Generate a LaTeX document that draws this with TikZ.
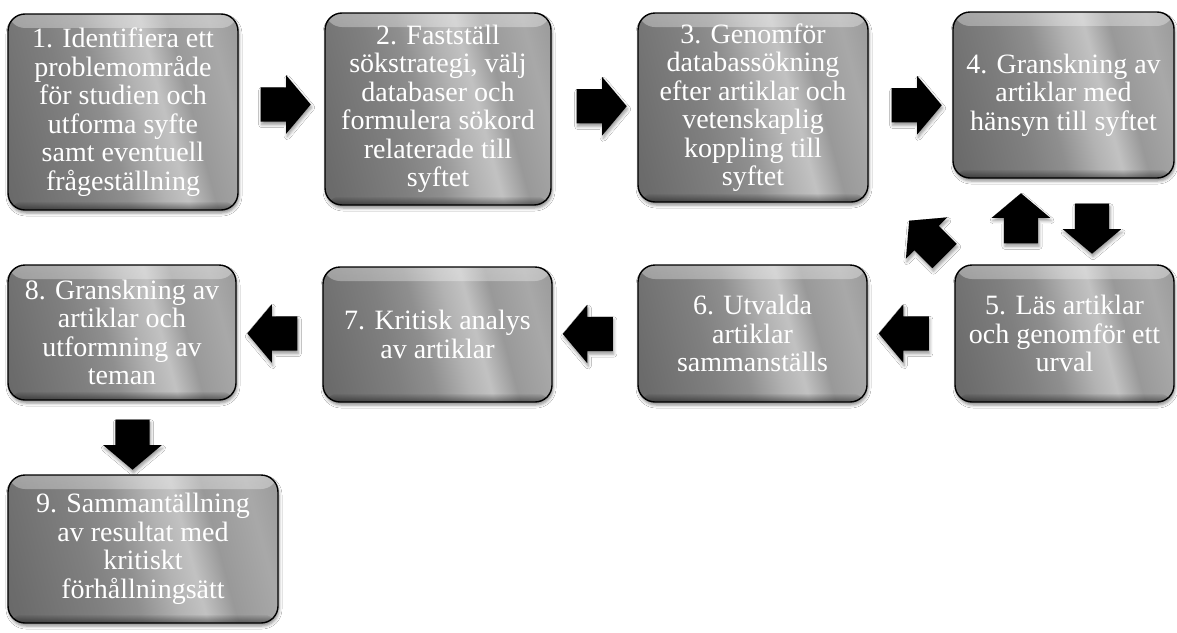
\documentclass[tikz,border=0pt]{standalone}
\usepackage{fontspec}
\setmainfont{Liberation Serif}
\usetikzlibrary{shapes.arrows,shadows.blur,calc,fadings}
\pgfdeclarehorizontalshading{metal}{100bp}{color(0bp)=(black!64); color(22bp)=(black!58); color(38bp)=(black!50); color(46bp)=(black!44); color(54bp)=(black!30); color(59bp)=(black!24); color(65bp)=(black!40); color(74bp)=(black!34); color(88bp)=(black!46); color(100bp)=(black!56)}
\tikzset{
  box/.style={draw=black, line width=1.4pt, rounded corners=17pt, shading=metal, shading angle=15,
    text=white, align=center, font=\fontsize{28}{28.5}\selectfont, inner sep=0pt,
    blur shadow={shadow xshift=1pt, shadow yshift=-3pt, shadow blur radius=3pt, shadow opacity=45},
    path picture={
      \fill[white,opacity=0.35,path fading=south] (path picture bounding box.north west) rectangle ([yshift=-14pt]path picture bounding box.north east);
      \fill[black,opacity=0.45,path fading=north] (path picture bounding box.south west) rectangle ([yshift=9pt]path picture bounding box.south east);}},
  blockarrow/.style={single arrow, fill=black, draw=none, minimum height=50pt,
    single arrow head extend=12pt, single arrow tip angle=100, inner xsep=0pt, inner ysep=17pt, anchor=center,
    blur shadow={shadow xshift=1pt, shadow yshift=-3pt, shadow blur radius=3pt, shadow opacity=40}}
}
\begin{document}
\begin{tikzpicture}[x=1pt,y=-1pt]
\useasboundingbox[fill=white] (0,0) rectangle (1177,632);
% boxes
\node[box, minimum width=230pt, minimum height=196pt] (b1) at (123,112)
  {1. Identifiera ett\\problemområde\\för studien och\\utforma syfte\\samt eventuell\\frågeställning};
\node[box, minimum width=226pt, minimum height=192pt] (b2) at (438,109)
  {2. Fastställ\\sökstrategi, välj\\databaser och\\formulera sökord\\relaterade till\\syftet};
\node[box, minimum width=230pt, minimum height=189pt] (b3) at (753,107.5)
  {3. Genomför\\databassökning\\efter artiklar och\\vetenskaplig\\koppling till\\syftet};
\node[box, minimum width=221pt, minimum height=166pt] (b4) at (1063.5,95)
  {4. Granskning av\\artiklar med\\hänsyn till syftet};
\node[box, minimum width=219pt, minimum height=137pt] (b5) at (1064.5,333.5)
  {5. Läs artiklar\\och genomför ett\\urval};
\node[box, minimum width=229pt, minimum height=137pt] (b6) at (752.5,333.5)
  {6. Utvalda\\artiklar\\sammanställs};
\node[box, minimum width=229pt, minimum height=135pt] (b7) at (437.5,334.5)
  {7. Kritisk analys\\av artiklar};
\node[box, minimum width=228pt, minimum height=135pt] (b8) at (122,332.5)
  {8. Granskning av\\artiklar och\\utformning av\\teman};
\node[box, minimum width=270pt, minimum height=148pt] (b9) at (143,549)
  {9. Sammantällning\\av resultat med\\kritiskt\\förhållningsätt};
% arrows
\node[blockarrow] (a12) at ($(b1.east)!0.5!(b2.west)+(-3,-6)$) {};
\node[blockarrow] (a23) at ($(b2.east)!0.5!(b3.west)+(0,-2)$) {};
\node[blockarrow] (a34) at ($(b3.east)!0.5!(b4.west)+(-1,4)$) {};
\node[blockarrow, rotate=90] (a54) at ($(b4.south)!0.5!(b5.north)+(-43,4)$) {};
\node[blockarrow, rotate=-90] (a45) at ($(b4.south)!0.5!(b5.north)+(28,0)$) {};
\node[blockarrow, rotate=135] (a5x) at ($(b4.south west)!0.5!(b6.north east)+(22,22)$) {};
\node[blockarrow, rotate=180] (a56) at ($(b5.west)!0.5!(b6.east)$) {};
\node[blockarrow, rotate=180] (a67) at ($(b6.west)!0.5!(b7.east)$) {};
\node[blockarrow, rotate=180] (a78) at ($(b7.west)!0.5!(b8.east)$) {};
\node[blockarrow, rotate=-90] (a89) at ($(b8.south)!0.5!(b9.north)$) {};
\end{tikzpicture}
\end{document}
